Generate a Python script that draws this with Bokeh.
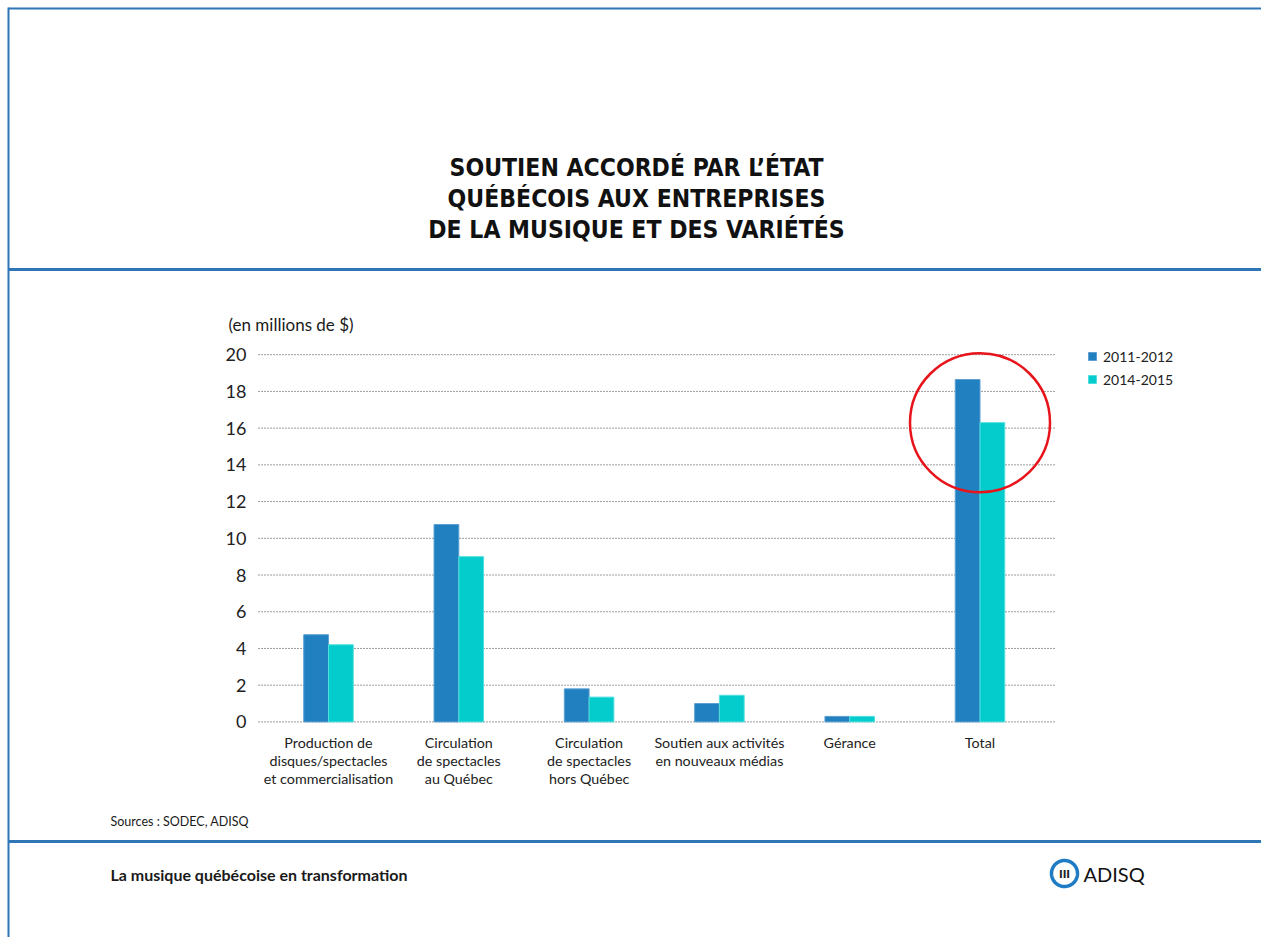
import numpy as np
from bokeh.plotting import figure
from bokeh.models import (Range1d, FixedTicker, Label, Legend, LegendItem,
                          PolyAnnotation, ColumnDataSource)
from bokeh.transform import dodge
from bokeh.embed import file_html
from bokeh.resources import INLINE

# ---------------- data ----------------
categories = [
    "Production de\ndisques/spectacles\net commercialisation",
    "Circulation\nde spectacles\nau Québec",
    "Circulation\nde spectacles\nhors Québec",
    "Soutien aux activités\nen nouveaux médias",
    "Gérance",
    "Total",
]
years = ["2011-2012", "2014-2015"]
values_2011 = [4.75, 10.75, 1.8, 1.0, 0.3, 18.65]
values_2014 = [4.2, 9.0, 1.35, 1.45, 0.3, 16.3]
y_ticks = [0, 2, 4, 6, 8, 10, 12, 14, 16, 18, 20]

title_lines = ["SOUTIEN ACCORDÉ PAR L’ÉTAT",
               "QUÉBÉCOIS AUX ENTREPRISES",
               "DE LA MUSIQUE ET DES VARIÉTÉS"]
y_label = "(en millions de $)"
source_text = "Sources : SODEC, ADISQ"
footer_text = "La musique québécoise en transformation"
logo_text = "ADISQ"

# ---------------- layout constants ----------------
W, H = 1261, 937
PXX, X0PX = 130.3, 328.0     # px per category, page x of first category
PXY, Y0PX = 18.36, 721.4     # px per unit, page y of value 0
GRID_L, GRID_R = 258, 1055
BLUE_LINE = "#2f76b7"
C2011 = "#2180c0"
C2014 = "#04cccc"
FONT = "Lato"


def dx(X):
    return (X - X0PX) / PXX


def dy(Y):
    return (Y0PX - Y) / PXY


idx = list(range(len(categories)))
src = ColumnDataSource(dict(x=idx, v2011=values_2011, v2014=values_2014))

p = figure(width=W, height=H, output_backend="svg", toolbar_location=None,
           x_range=Range1d(dx(0), dx(W)), y_range=Range1d(dy(H), dy(0)),
           min_border=0)
p.outline_line_color = None
p.background_fill_color = "white"
p.border_fill_color = "white"
p.xgrid.visible = False
p.ygrid.visible = False

# dotted horizontal gridlines at the tick values
p.segment(x0=dx(GRID_L), x1=dx(GRID_R), y0=y_ticks, y1=y_ticks,
          line_color="#3a3a3a", line_dash="1 2", line_width=1)

bw = 0.19
r1 = p.vbar(x=dodge("x", -bw / 2, range=p.x_range), top="v2011", width=bw,
            source=src, fill_color=C2011, line_color="#5d9fd2", line_width=1)
r2 = p.vbar(x=dodge("x", bw / 2, range=p.x_range), top="v2014", width=bw,
            source=src, fill_color=C2014, line_color="#4fdede", line_width=1)

# axes, pinned inside the page
p.yaxis.fixed_location = dx(GRID_L)
p.yaxis.ticker = FixedTicker(ticks=y_ticks)
p.yaxis.axis_line_color = None
p.yaxis.major_tick_line_color = None
p.yaxis.minor_tick_line_color = None
p.yaxis.major_label_text_font = FONT
p.yaxis.major_label_text_font_size = "18px"
p.yaxis.major_label_text_color = "#222222"
p.yaxis.major_label_standoff = 6

p.xaxis.fixed_location = dy(726)
p.xaxis.ticker = FixedTicker(ticks=idx)
p.xaxis.major_label_overrides = {i: c for i, c in zip(idx, categories)}
p.xaxis.axis_line_color = None
p.xaxis.major_tick_line_color = None
p.xaxis.minor_tick_line_color = None
p.xaxis.major_label_text_font = FONT
p.xaxis.major_label_text_font_size = "14.3px"
p.xaxis.major_label_text_color = "#222222"
p.xaxis.major_label_standoff = 1
p.xaxis.major_label_text_line_height = 1.08

# highlight circle around the Total bars
ti = categories.index("Total")
p.ellipse(x=[idx[ti]], y=[values_2014[ti]], width=140 / PXX, height=139 / PXY,
          fill_color=None, line_color="#e8141b", line_width=2.5)

# legend (location = bottom-left corner, screen units from bottom-left)
legend = Legend(items=[LegendItem(label=years[0], renderers=[r1]),
                       LegendItem(label=years[1], renderers=[r2])],
                location=(1087, H - 389),
                glyph_width=10, glyph_height=10, label_height=20,
                spacing=3, padding=0, margin=0, label_standoff=6,
                label_text_font=FONT, label_text_font_size="14px",
                label_text_color="#222222",
                background_fill_alpha=0, border_line_color=None)
p.add_layout(legend, "center")


def sx(X):
    return X


def sy(Y):
    return H - Y


def label(X, Y, text, size, font=FONT, style="normal", align="left",
          color="#1a1a1a"):
    p.add_layout(Label(x=sx(X), y=sy(Y), x_units="screen", y_units="screen",
                       text=text, text_font=font, text_font_size=size,
                       text_font_style=style, text_align=align,
                       text_baseline="middle", text_color=color))


def box(X0, X1, Y0, Y1):
    p.add_layout(PolyAnnotation(xs=[sx(X0), sx(X1), sx(X1), sx(X0)],
                                ys=[sy(Y0), sy(Y0), sy(Y1), sy(Y1)],
                                xs_units="screen", ys_units="screen",
                                fill_color=BLUE_LINE, fill_alpha=1,
                                line_color=None))


# page frame lines
box(8, W, 7, 9)          # top
box(7, 9, 7, H)          # left
box(8, W, 267.5, 270.5)  # under the title
box(8, W, 839.5, 842.5)  # above the footer

# title
TITLE_FONT = "'Liberation Sans Narrow', 'DejaVu Sans Condensed', Roboto"
for k, t in enumerate(title_lines):
    label(636, 167 + 31 * k, t, "24.5px", font=TITLE_FONT, style="bold",
          align="center", color="#111111")

# axis unit label, source, footer
label(228, 324, y_label, "17px")
label(110, 821, source_text, "12.5px")
label(110, 874, footer_text, "16px", style="bold")

# ADISQ logo
th = np.linspace(0, 2 * np.pi, 72)
cx, cy, rr = 1064, 873, 13
p.add_layout(PolyAnnotation(xs=list(sx(cx + rr * np.cos(th))),
                            ys=list(sy(cy + rr * np.sin(th))),
                            xs_units="screen", ys_units="screen",
                            fill_alpha=0, line_color="#1f7bc4", line_alpha=1,
                            line_width=3.5))
label(1064, 874, "III", "10px", font="DejaVu Sans", style="bold",
      align="center", color="#222222")
label(1083, 873, logo_text, "20px", font=FONT, color="#111111")

open("out.html", "w").write(file_html(p, INLINE))
